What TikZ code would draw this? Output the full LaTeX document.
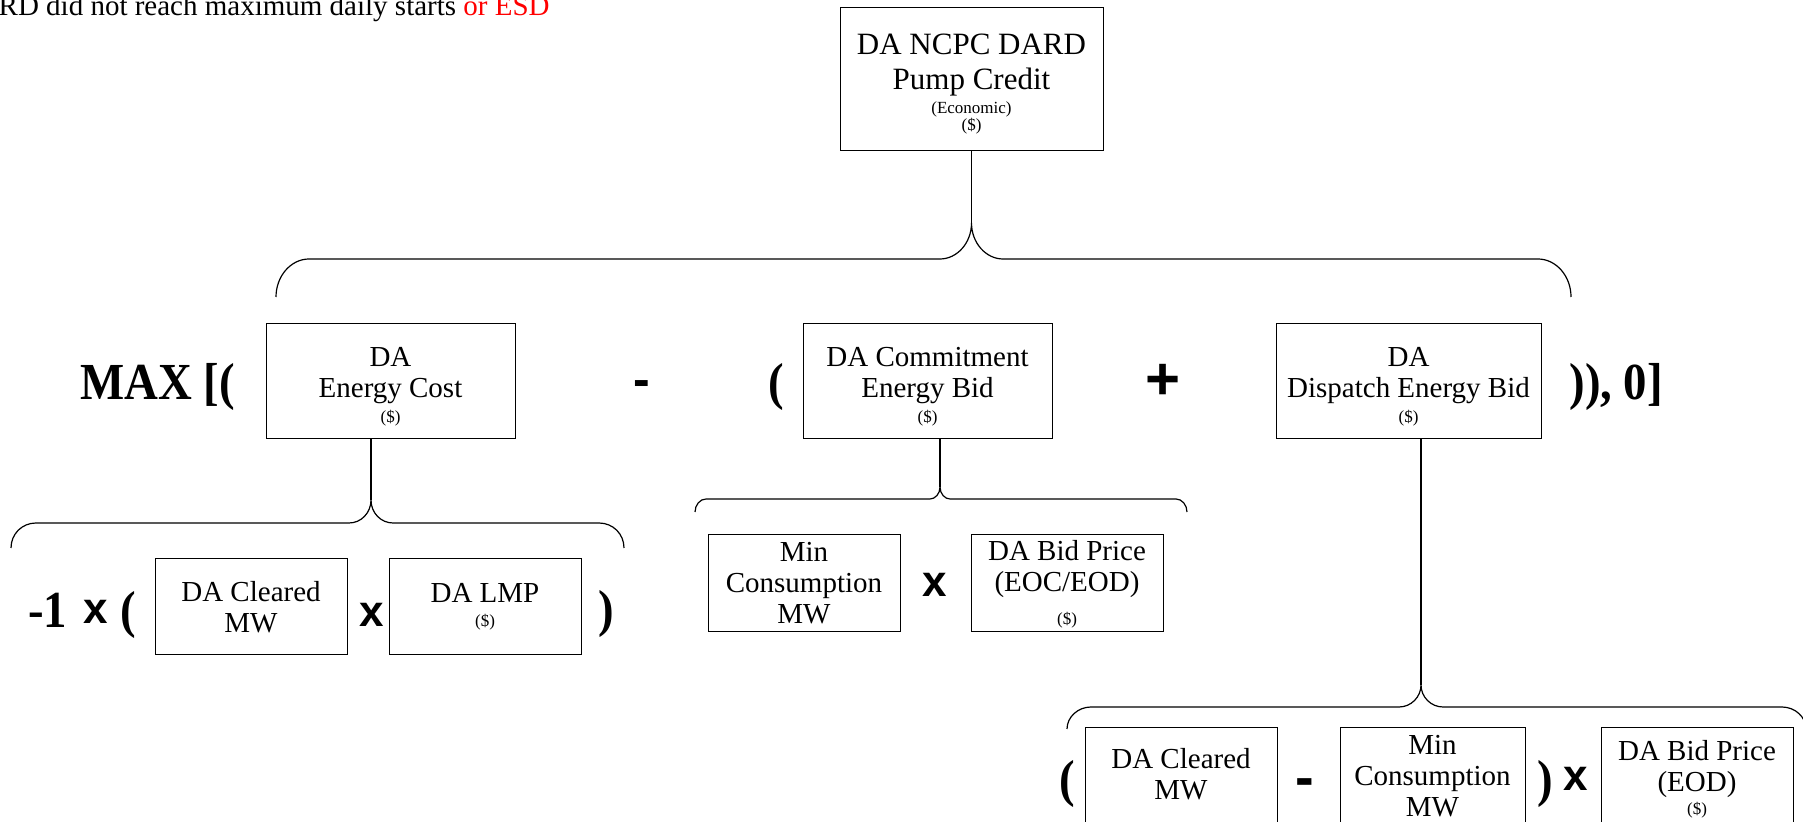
\documentclass[tikz,border=0pt]{standalone}
\usepackage{fontspec}
\setmainfont{Liberation Serif}
\setsansfont{Liberation Sans}
\newfontfamily\opfont{Liberation Serif}[FakeStretch=0.9]
\newcommand\smtxt{\fontsize{8.5}{9}\selectfont}
\newcommand\topstrut[1]{\rule{0pt}{#1}}
\tikzset{
  box/.style={draw, line width=0.5pt, inner sep=0pt, align=center, font=\fontsize{14.5}{15.5}\selectfont},
  btxt/.style={inner sep=0pt, align=center, font=\fontsize{14.5}{15.5}\selectfont},
  conn/.style={line width=0.6pt},
  brace/.style={line width=0.6pt},
  bop/.style={inner sep=0pt, font=\opfont\bfseries\fontsize{26}{28}\selectfont},
  sop/.style={inner sep=0pt, font=\sffamily\bfseries\fontsize{22}{24}\selectfont},
}
\begin{document}
\begin{tikzpicture}[x=0.5pt, y=-0.5pt]
\useasboundingbox (0,0) rectangle (1803,822);
\fill[white] (0,0) rectangle (1803,822);

% top note
\node[inner sep=0pt, anchor=base east, font=\fontsize{14.5}{15.5}\selectfont] (note) at (550,16) {RD did not reach maximum daily starts \textcolor{red}{or ESD}};

% top box
\node[box, minimum width=131.5pt, minimum height=71.5pt, font=\fontsize{15.5}{17.5}\selectfont] (top) at (971.5,79.5)
  {\topstrut{15.3pt}DA NCPC DARD\\Pump Credit\\[-5.5pt]{\smtxt (Economic)}\\[-9pt]{\smtxt (\$)}};

% middle row
\node[box, minimum width=124.5pt, minimum height=57.5pt] (ecost) at (390.5,381.5) {\topstrut{14.6pt}DA\\Energy Cost\\[-3pt]{\smtxt (\$)}};
\node[box, minimum width=124.5pt, minimum height=57.5pt] (cbid) at (927.5,381.5) {\topstrut{14.6pt}DA Commitment\\Energy Bid\\[-3pt]{\smtxt (\$)}};
\node[box, minimum width=132.5pt, minimum height=57.5pt] (dbid) at (1408.5,381.5) {\topstrut{14.6pt}DA\\Dispatch Energy Bid\\[-3pt]{\smtxt (\$)}};

\node[bop, anchor=base west] (max) at (80,400) {MAX [(};
\node[sop, anchor=base, font=\sffamily\bfseries\fontsize{25}{27}\selectfont] (minus1) at (642,397) {-};
\node[bop, anchor=base west] (lp1) at (768,400) {(};
\node[sop, anchor=base, font=\sffamily\bfseries\fontsize{30}{32}\selectfont] (plus) at (1163,400) {+};
\node[bop, anchor=base west] (close) at (1569,400) {)), 0]};

% lower left row
\node[box, minimum width=96pt, minimum height=48pt] (lcl) at (251,607) {DA Cleared\\MW};
\node[box, minimum width=96pt, minimum height=48pt] (llmp) at (485,607) {DA LMP\\[-3.5pt]{\smtxt (\$)}};
\node[bop, anchor=base west] (neg) at (28,628) {-1};
\node[sop, anchor=base] (x1) at (96,624) {x};
\node[bop, anchor=base west] (lp2) at (120,628) {(};
\node[sop, anchor=base] (x2) at (372,627) {x};
\node[bop, anchor=base west] (rp2) at (598,626) {)};

% lower middle row
\node[box, minimum width=96pt, minimum height=48.5pt] (mmin) at (804,583.5) {Min\\Consumption\\MW};
\node[box, minimum width=96pt, minimum height=48.5pt] (mbid) at (1067,583.5) {\topstrut{11pt}DA Bid Price\\(EOC/EOD)\\[1pt]{\smtxt (\$)}};
\node[sop, anchor=base] (x3) at (935,597) {x};

% bottom right row
\node[box, minimum width=96pt, minimum height=56.5pt, anchor=north] (rcl) at (1181,727) {};
\node[btxt] (rclt) at (1181,774) {DA Cleared\\MW};
\node[box, minimum width=92.5pt, minimum height=56.5pt, anchor=north] (rmin) at (1432.5,727) {};
\node[btxt] (rmint) at (1432.5,776) {Min\\Consumption\\MW};
\node[box, minimum width=96pt, minimum height=56.5pt, anchor=north] (rbid) at (1697,727) {};
\node[btxt] (rbidt) at (1697,779.5) {DA Bid Price\\(EOD)\\[-4pt]{\smtxt (\$)}};
\node[bop, anchor=base west] (lp3) at (1059,796) {(};
\node[sop, anchor=base, font=\sffamily\bfseries\fontsize{28}{30}\selectfont] (minus2) at (1305,796) {-};
\node[bop, anchor=base west] (rp3) at (1537,796) {)};
\node[sop, anchor=base] (x4) at (1576,790) {x};

% brace tips
\coordinate (t0) at (971.5,223);
\coordinate (t1) at (371,500);
\coordinate (t2) at (940,487);
\coordinate (t3) at (1421,685);

% connectors
\draw[conn] (top.south) -- (t0);
\draw[conn] (t1 |- ecost.south) -- (t1);
\draw[conn] (t2 |- cbid.south) -- (t2);
\draw[conn] (t3 |- dbid.south) -- (t3);

% braces
\draw[brace] (276,297) .. controls (276,276) and (291,259) .. (309,259) -- (940,259)
  .. controls (957,259) and (971.5,243) .. (t0) .. controls (971.5,243) and (986,259) .. (1003,259)
  -- (1538,259) .. controls (1556,259) and (1571,276) .. (1571,297);
\draw[brace] (11,548) .. controls (11,534) and (22,523) .. (36,523) -- (349,523)
  .. controls (361,523) and (371,513) .. (t1) .. controls (371,513) and (381,523) .. (393,523)
  -- (599,523) .. controls (613,523) and (624,534) .. (624,548);
\draw[brace] (695,512) .. controls (695,505) and (700,499) .. (706,499) -- (930,499)
  .. controls (935,499) and (940,494) .. (t2) .. controls (940,494) and (945,499) .. (950,499)
  -- (1176,499) .. controls (1182,499) and (1187,505) .. (1187,512);
\draw[brace] (1067,729) .. controls (1067,717) and (1078,707) .. (1091,707) -- (1399,707)
  .. controls (1411,707) and (1421,697) .. (t3) .. controls (1421,697) and (1431,707) .. (1443,707)
  -- (1782,707) .. controls (1795,707) and (1806,717) .. (1806,729);
\end{tikzpicture}
\end{document}
